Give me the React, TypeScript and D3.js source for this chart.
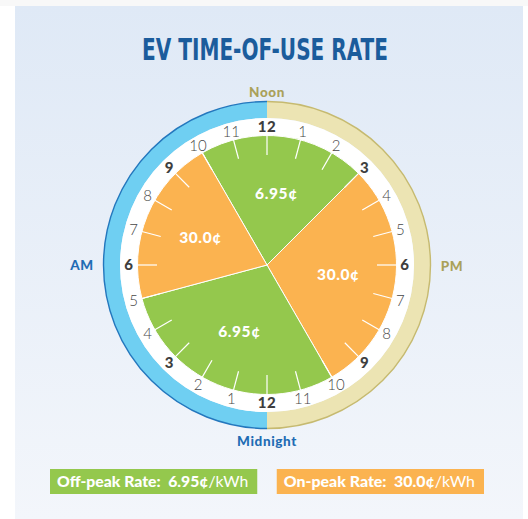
import { useEffect, useRef } from "react";
import * as d3 from "d3";

// pie slices, in hours of the day (0 = midnight), end may run past 24
const sliceStart = [10, 15, 22, 5];
const sliceEnd = [15, 22, 29, 10];
const sliceRate = ["6.95¢", "30.0¢", "6.95¢", "30.0¢"];
const sliceKind = ["off", "on", "off", "on"];

const hourLabels = ["12", "1", "2", "3", "4", "5", "6", "7", "8", "9", "10", "11",
  "12", "1", "2", "3", "4", "5", "6", "7", "8", "9", "10", "11"];

const legendNames = ["Off-peak Rate:", "On-peak Rate:"];
const legendRates = ["6.95¢", "30.0¢"];
const legendUnit = "/kWh";

const colors: Record<string, string> = { off: "#94c84d", on: "#fbb350" };

const W = 528;
const H = 519;
const cx = 267;
const cy = 265;
const rOuter = 163.5;
const rRing = 147;
const rPie = 129.5;
const rTick = 110;
const rHour = 138;
const rRateLabel = 72;

const boldFont = "Lato, 'Open Sans', sans-serif";

export default function App() {
  const svgRef = useRef<SVGSVGElement | null>(null);

  useEffect(() => {
    if (!svgRef.current) return;
    const svg = d3.select(svgRef.current);
    svg.selectAll("*").remove();

    // background panel
    const defs = svg.append("defs");
    const grad = defs.append("linearGradient").attr("id", "bg").attr("x1", 0).attr("y1", 0).attr("x2", 0).attr("y2", 1);
    grad.append("stop").attr("offset", "0%").attr("stop-color", "#dfe9f6");
    grad.append("stop").attr("offset", "100%").attr("stop-color", "#f3f6fb");
    svg.append("rect").attr("width", W).attr("height", 6).attr("fill", "#f8f8f8");
    svg.append("rect").attr("x", 15).attr("y", 6).attr("width", 508).attr("height", H - 6).attr("fill", "url(#bg)");

    // title
    svg.append("text")
      .attr("x", 265).attr("y", 60)
      .attr("text-anchor", "middle")
      .attr("font-family", "'Liberation Sans Narrow', 'DejaVu Sans Condensed', 'Roboto Condensed', sans-serif")
      .attr("font-weight", 700)
      .attr("font-size", 30)
      .attr("textLength", 246)
      .attr("lengthAdjust", "spacingAndGlyphs")
      .attr("fill", "#1b5c9c")
      .text("EV TIME-OF-USE RATE");

    // hour -> angle (0 at top, clockwise), midnight at the bottom
    const angle = d3.scaleLinear().domain([0, 24]).range([Math.PI, 3 * Math.PI]);

    const g = svg.append("g").attr("transform", `translate(${cx},${cy})`);

    // AM / PM rings
    const ringArc = d3.arc<{ s: number; e: number }>()
      .innerRadius(rRing).outerRadius(rOuter)
      .startAngle(d => d.s).endAngle(d => d.e);
    const edgeArc = d3.arc<{ s: number; e: number }>()
      .innerRadius(rOuter).outerRadius(rOuter)
      .startAngle(d => d.s).endAngle(d => d.e);
    const rings = [
      { s: angle(0), e: angle(12), fill: "#6fcff2", stroke: "#2477bd" },
      { s: angle(12), e: angle(24), fill: "#ece4b3", stroke: "#c6ba70" },
    ];
    rings.forEach(r => {
      g.append("path").attr("d", ringArc(r) as string).attr("fill", r.fill);
      g.append("path").attr("d", edgeArc(r) as string).attr("fill", "none")
        .attr("stroke", r.stroke).attr("stroke-width", 1.4);
    });
    g.append("circle").attr("r", rRing).attr("fill", "#ffffff");

    // rate slices
    const sliceArc = d3.arc<number>()
      .innerRadius(0).outerRadius(rPie)
      .startAngle(i => angle(sliceStart[i])).endAngle(i => angle(sliceEnd[i]));
    g.selectAll("path.slice")
      .data(d3.range(sliceStart.length))
      .enter()
      .append("path")
      .attr("class", "slice")
      .attr("d", i => sliceArc(i) as string)
      .attr("fill", i => colors[sliceKind[i]])
      .attr("stroke", "#ffffff")
      .attr("stroke-width", 1);

    // hour ticks
    const hours = d3.range(24);
    g.selectAll("line.tick")
      .data(hours)
      .enter()
      .append("line")
      .attr("x1", h => rPie * Math.sin(angle(h)))
      .attr("y1", h => -rPie * Math.cos(angle(h)))
      .attr("x2", h => rTick * Math.sin(angle(h)))
      .attr("y2", h => -rTick * Math.cos(angle(h)))
      .attr("stroke", "#ffffff")
      .attr("stroke-width", 1.2);

    // hour labels
    g.selectAll("text.hour")
      .data(hours)
      .enter()
      .append("text")
      .attr("x", h => rHour * Math.sin(angle(h)))
      .attr("y", h => -rHour * Math.cos(angle(h)))
      .attr("dy", "0.36em")
      .attr("text-anchor", "middle")
      .attr("font-family", boldFont)
      .attr("font-size", 15)
      .attr("font-weight", h => (h % 3 === 0 ? 900 : 300))
      .attr("letter-spacing", h => (h % 3 === 0 ? 0.6 : 0))
      .attr("fill", h => (h % 3 === 0 ? "#3e3e3e" : "#474747"))
      .text(h => hourLabels[h]);

    // rate labels inside slices
    g.selectAll("text.rate")
      .data(d3.range(sliceStart.length))
      .enter()
      .append("text")
      .attr("x", i => rRateLabel * Math.sin(angle((sliceStart[i] + sliceEnd[i]) / 2)))
      .attr("y", i => -rRateLabel * Math.cos(angle((sliceStart[i] + sliceEnd[i]) / 2)))
      .attr("dy", "0.36em")
      .attr("text-anchor", "middle")
      .attr("font-family", boldFont)
      .attr("font-weight", 900)
      .attr("font-size", 15.5)
      .attr("letter-spacing", 0.6)
      .attr("fill", "#ffffff")
      .text(i => sliceRate[i]);

    // Noon / Midnight / AM / PM
    const side = [
      { t: "Noon", x: 0, y: -173, c: "#aaa15a" },
      { t: "Midnight", x: 0, y: 176, c: "#1f6cb4" },
      { t: "AM", x: -185, y: 0, c: "#1f6cb4" },
      { t: "PM", x: 185, y: 1, c: "#aaa15a" },
    ];
    g.selectAll("text.side")
      .data(side)
      .enter()
      .append("text")
      .attr("x", d => d.x)
      .attr("y", d => d.y)
      .attr("dy", "0.36em")
      .attr("text-anchor", "middle")
      .attr("font-family", boldFont)
      .attr("font-weight", 900)
      .attr("font-size", 13.5)
      .attr("letter-spacing", 0.6)
      .attr("fill", d => d.c)
      .text(d => d.t);

    // legend
    const legendX = d3.scaleBand<number>().domain([0, 1]).range([50, 484]).paddingInner(0.086);
    legendNames.forEach((name, i) => {
      const x0 = legendX(i) as number;
      svg.append("rect")
        .attr("x", x0).attr("y", 469)
        .attr("width", legendX.bandwidth()).attr("height", 25)
        .attr("fill", colors[i === 0 ? "off" : "on"]);
      const t = svg.append("text")
        .attr("x", x0 + 7).attr("y", 487)
        .attr("font-family", boldFont)
        .attr("font-size", 15)
        .attr("fill", "#ffffff")
        .attr("textLength", legendX.bandwidth() - 16)
        .attr("lengthAdjust", "spacingAndGlyphs");
      t.append("tspan").attr("font-weight", 900).text(name + "\u00a0\u00a0" + legendRates[i]);
      t.append("tspan").attr("font-weight", 400).text(legendUnit);
    });
  }, []);

  return (
    <svg
      ref={svgRef}
      width={W}
      height={H}
      style={{ position: "absolute", left: 0, top: 0, background: "#ffffff" }}
    />
  );
}
